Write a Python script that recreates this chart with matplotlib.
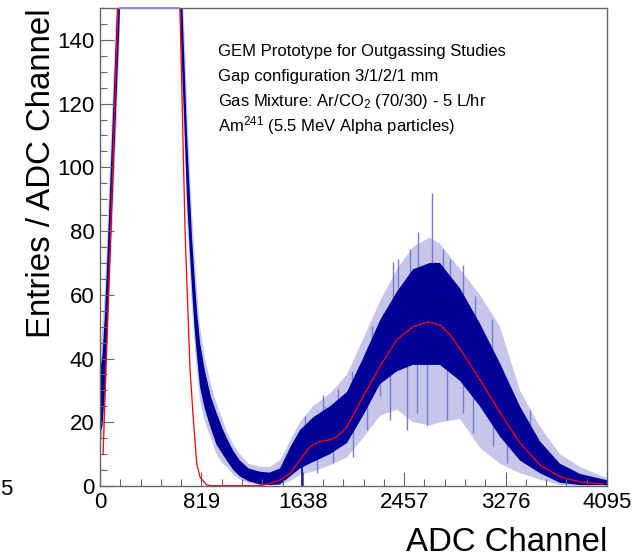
import numpy as np
import matplotlib
matplotlib.use("Agg")
import matplotlib.pyplot as plt
from matplotlib.ticker import MultipleLocator, FixedLocator

plt.rcParams['font.family'] = ['Liberation Sans', 'DejaVu Sans']
plt.rcParams['mathtext.fontset'] = 'custom'
plt.rcParams['mathtext.rm'] = 'Liberation Sans'
plt.rcParams['mathtext.default'] = 'regular'

# ---------------- data ----------------
channels = [0, 20, 40, 60, 80, 100, 120, 140, 160, 200, 400, 600, 640, 660, 680, 703,
            725, 743, 765, 783, 808, 848, 896, 941, 990, 1024, 1077, 1130, 1200, 1290,
            1370, 1454, 1535, 1615, 1720, 1858, 1995, 2124, 2262, 2399, 2528, 2665,
            2746, 2908, 3069, 3231, 3392, 3554, 3715, 3877, 4063, 4095]
# typical (central) counts per channel; 300 = off scale (above 150)
counts_mid = [26, 30, 42, 60, 80, 100, 120, 140, 160, 300, 300, 300, 170, 145, 125, 100,
              83, 70, 57, 48, 38, 30, 23, 18, 14, 11.5, 8, 5.5, 3.5, 2.5,
              2.2, 3, 7.5, 11.5, 14.5, 17.5, 21.5, 31, 42, 48.5, 53, 54,
              54, 47.5, 38, 27, 16.5, 9, 4, 2, 1.2, 1]
# dense (dark) part of the fluctuating histogram
core_lo = [16, 19, 30, 48, 68, 88, 108, 128, 148, 250, 250, 250, 158, 134, 115, 90,
           74, 62, 49, 41, 31, 24, 18, 13, 10, 8, 5, 3, 1.5, 0.5,
           0.3, 0.5, 3, 5.5, 7.5, 10, 13.5, 22, 32, 36, 38, 38,
           38, 33, 25, 15.5, 8, 4, 1, 0.3, 0.3, 0.2]
core_hi = [36, 41, 54, 72, 92, 112, 132, 152, 172, 350, 350, 350, 182, 156, 135, 110,
           92, 78, 65, 55, 45, 36, 28, 23, 18, 15, 11, 8, 5.5, 4.5,
           4.2, 5.5, 12, 17.5, 21.5, 25, 29.5, 40, 52, 61, 68, 70,
           70, 62, 51, 38.5, 25, 14, 7, 3.8, 2.1, 1.8]
# extent of the sparse (light) fluctuations
spread_lo = [13, 15, 25, 42, 60, 80, 100, 120, 140, 250, 250, 250, 150, 126, 108, 84,
             68, 56, 44, 36, 27, 20, 15, 10, 7, 6, 3.5, 2, 0.8, 0.2,
             0.2, 0.3, 1.5, 3.5, 4.5, 6.5, 9, 15, 22, 24, 20, 19,
             20, 21, 12, 7, 4, 2, 0.3, 0.1, 0.1, 0.1]
spread_hi = [40, 50, 62, 80, 100, 120, 140, 160, 180, 350, 350, 350, 190, 165, 145, 120,
             100, 86, 72, 62, 50, 40, 32, 26, 21, 17, 13, 10, 7, 6,
             6, 8, 14, 20, 25, 29, 35, 46, 58, 68, 75, 78,
             76, 68, 60, 50, 30, 18.6, 10, 6, 3, 2.5]
# individual prominent fluctuations (channel, value)
spike_up_ch = [2684, 2571, 2364, 2504, 2773, 2935, 3029, 2288, 2194, 2140, 2033, 2410,
               2827, 3164, 3312, 3473, 1804, 1656, 1925, 1817, 1589]
spike_up_val = [91.8, 79.7, 70.2, 74.4, 74.4, 69.2, 59.7, 54.4, 50.2, 41.3, 36, 71.3,
                71.3, 52.3, 31.3, 24, 28.7, 21.9, 30.3, 25, 15.6]
spike_dn_ch = [2638, 2477, 2558, 2800, 2935, 3015, 3177, 3285, 2342, 2262, 2154, 2046,
               1884, 1750]
spike_dn_val = [18.7, 17.7, 22.9, 20.8, 23, 16.6, 12.4, 7.1, 20.8, 28.2, 17.7, 9.2,
                7.1, 4.0]
dip_ch = [1629]
dip_val = [0]

# fit function (red)
fit_ch = [25, 86, 145, 170, 300, 500, 620, 646, 687, 727, 754, 781, 808, 862, 900,
          1292, 1373, 1454, 1535, 1615, 1696, 1777, 1858, 1914, 1995, 2124, 2262,
          2399, 2528, 2652, 2746, 2827, 2908, 3069, 3231, 3392, 3554, 3715, 3877, 4063]
fit_val = [10, 80, 150, 190, 600, 600, 190, 150, 80, 36.6, 21, 7, 2.8, 0.3, 0.1,
           0.1, 0.8, 1.9, 4, 8.2, 12.3, 14, 14.5, 15.5, 18.6, 28, 37.6,
           46, 50, 51.5, 50.5, 47.5, 43, 33.4, 23, 13.5, 6.6, 2.9, 1.3, 0.6]

x_ticks = [0, 819, 1638, 2457, 3276, 4095]
y_ticks = [0, 20, 40, 60, 80, 100, 120, 140]

info_lines = ["GEM Prototype for Outgassing Studies",
              "Gap configuration 3/1/2/1 mm",
              "Gas Mixture: Ar/CO$_2$ (70/30) - 5 L/hr",
              "Am$^{241}$ (5.5 MeV Alpha particles)"]

# ---------------- figure ----------------
W, H = 634, 559
fig = plt.figure(figsize=(W / 100, H / 100), dpi=100)
ax = fig.add_axes([100 / W, 1 - 486 / H, 507 / W, 478 / H])

dark = '#000099'
light = '#7a7acc'
ymax = 150

ax.fill_between(channels, spread_lo, spread_hi, color='#c6c6ea', lw=0, zorder=1)
mid_at_up = np.interp(spike_up_ch, channels, counts_mid)
mid_at_dn = np.interp(spike_dn_ch, channels, counts_mid)
ax.vlines(spike_up_ch, mid_at_up, spike_up_val, color=light, lw=1.0, zorder=1.2)
ax.vlines(spike_dn_ch, spike_dn_val, mid_at_dn, color=light, lw=1.0, zorder=1.2)
ax.fill_between(channels, core_lo, core_hi, color=dark, lw=0, zorder=1.5)
ax.vlines(dip_ch, dip_val, np.interp(dip_ch, channels, counts_mid), color=dark, lw=1.2,
          zorder=1.6)
ax.plot(fit_ch, fit_val, color='#ff0000', lw=0.9, zorder=2)

# histogram clipped at the top of the frame (off-scale part)
mid_arr = np.array(counts_mid, dtype=float)
top_line = np.where(mid_arr >= ymax, ymax, np.nan)
ax.plot(channels, top_line, color='#8c8ce0', lw=1.3, zorder=3.5, clip_on=False)

ax.set_xlim(0, 4095)
ax.set_ylim(0, ymax)
ax.xaxis.set_major_locator(FixedLocator(x_ticks))
ax.xaxis.set_minor_locator(FixedLocator(np.arange(0, 4096, 819 / 5)))
ax.yaxis.set_major_locator(FixedLocator(y_ticks))
ax.yaxis.set_minor_locator(MultipleLocator(5))
ax.set_xticklabels([str(t) for t in x_ticks])
ax.set_yticklabels([str(t) for t in y_ticks])

frame_col = '#666666'
for s in ax.spines.values():
    s.set_color(frame_col)
    s.set_linewidth(1.0)
    s.set_zorder(3)
ax.tick_params(which='both', direction='in', color=frame_col, width=0.8,
               labelsize=16, top=False, right=False)
ax.tick_params(which='major', length=10)
ax.tick_params(which='minor', length=5)
ax.tick_params(axis='y', pad=4)
ax.tick_params(axis='x', pad=4)

# axis titles (ROOT style, right aligned)
fig.text(50 / W, 1 - 8 / H, "Entries / ADC Channel", rotation=90, fontsize=23.8,
         ha='right', va='baseline', rotation_mode='anchor')
fig.text(607 / W, 1 - 551 / H, "ADC Channel", fontsize=23.8, ha='right', va='baseline')
fig.text(0 / W, 1 - 495 / H, "5", fontsize=16, ha='left', va='baseline')

for i, line in enumerate(info_lines):
    fig.text(218 / W, 1 - (56 + 25 * i) / H, line, fontsize=12, ha='left', va='baseline')

fig.savefig("out.png", dpi=100)
